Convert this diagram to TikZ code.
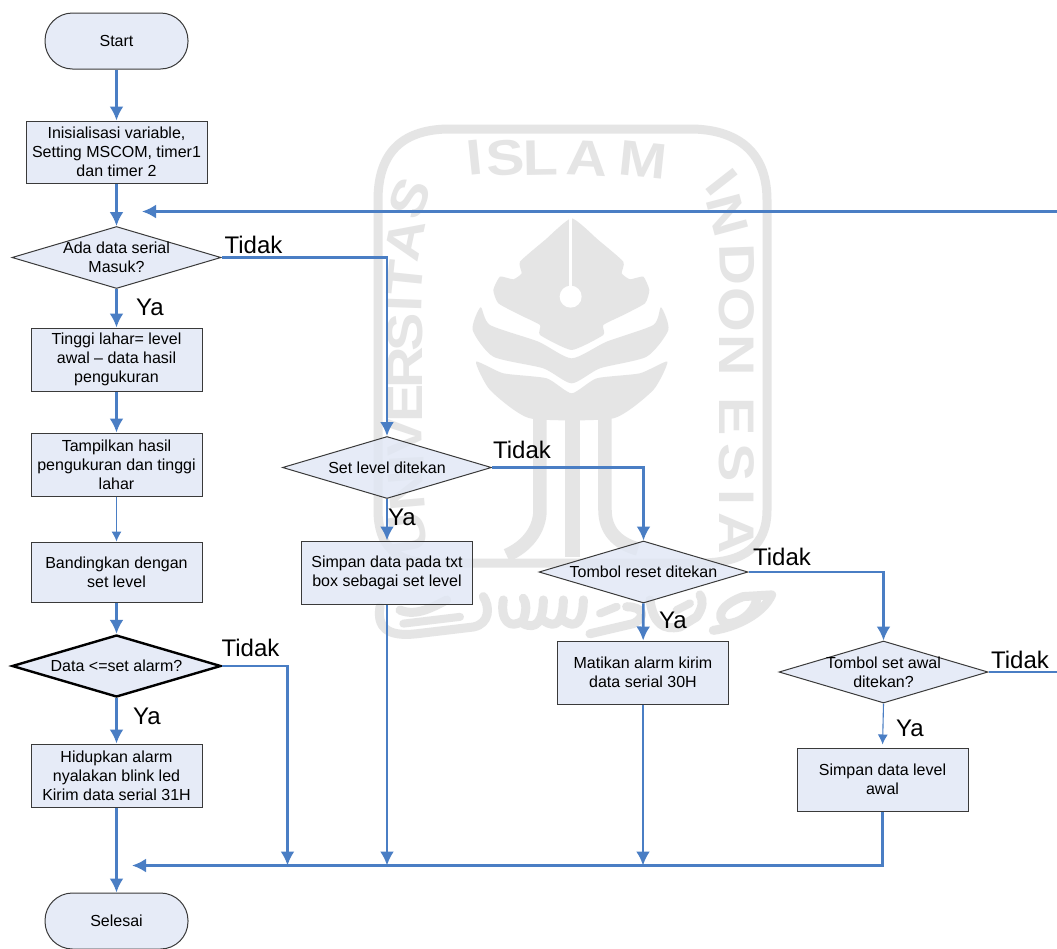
\documentclass[tikz,border=0pt]{standalone}
\usepackage{fontspec}
\setmainfont{Liberation Sans}
\usetikzlibrary{shapes.geometric,arrows.meta}
\definecolor{flowblue}{HTML}{4A7EC4}
\definecolor{boxfill}{HTML}{E0E7F5}
\definecolor{boxline}{HTML}{3A3A3A}
\definecolor{wmgray}{HTML}{E5E5E5}
\tikzset{
  x=1pt,y=-1pt,
  boxtext/.style={font=\fontsize{16}{19}\selectfont,align=center,text=black,text opacity=1},
  shapebase/.style={draw=boxline,line width=1pt,fill=boxfill,fill opacity=.8,text opacity=1,inner sep=0pt},
  procbox/.style={shapebase,rectangle,boxtext,minimum width=#1},
  pill/.style={shapebase,rectangle,rounded corners=27.5pt,minimum width=143pt,minimum height=56pt,boxtext},
  decision/.style={shapebase,diamond,minimum width=209pt,minimum height=62pt},
  dtext/.style={label={[boxtext]center:{#1}}},
  flow/.style={draw=flowblue,line width=2.6pt,-{Latex[width=14pt,length=14pt]}},
  flowplain/.style={draw=flowblue,line width=2.6pt},
  thinflow/.style={draw=flowblue,line width=1.1pt,-{Latex[width=10pt,length=10pt]}},
  answer/.style={font=\fontsize{24}{28}\selectfont,text=black,inner sep=0pt},
  wmfill/.style={fill=wmgray,draw=none},
  wmline/.style={draw=wmgray,line cap=round,line join=round},
  wmchar/.style={font=\fontsize{50}{50}\selectfont\bfseries,text=wmgray,inner sep=0pt},
}
\begin{document}
\begin{tikzpicture}
\useasboundingbox (0,0) rectangle (1057,948);
\fill[white] (0,0) rectangle (1057,948);
% ---- watermark ----
\draw[wmline,line width=9pt,line cap=butt]
  (400,560) -- (425,563) -- (700,563) .. controls (745,563) and (767,545) .. (767,510)
  -- (767,200) .. controls (767,150) and (735,129) .. (690,129)
  -- (450,129) .. controls (405,129) and (378,150) .. (378,200)
  -- (378,510) .. controls (378,545) and (395,560) .. (425,563);
\foreach \c/\px/\py/\r [count=\i] in {
  I/475/158/6, S/505/158/4, L/541/158/1, A/587/158/-3, M/643/160/-6,
  S/410/198/68, A/405/240/78, T/405/278/84, I/405/304/88, S/405/332/90, R/405/368/90, E/405/403/90, V/405/437/92, I/407/462/93, N/407/490/95, U/408/533/100,
  I/722/182/-52, N/727/215/-75, D/737/265/-88, O/737/310/-90, N/737/355/-90, E/737/417/-90, S/737/463/-90, I/737/497/-90, A/737/533/-90}
  \node[wmchar,rotate=\r,xscale=1.15] (wm\i) at (\px,\py) {\c};
\begin{scope}[xshift=460pt,yshift=-210pt,x=.3333pt,y=-.3333pt]
  % pen nib and body
  \fill[wmfill] plot[smooth cycle,tension=.3] coordinates {(335,25) (255,90) (180,155) (185,190) (160,208) (120,200) (100,240) (115,280) (180,315) (240,345) (240,375) (335,420) (430,375) (430,345) (490,315) (555,280) (568,240) (550,200) (510,208) (485,190) (490,155) (415,90)};
  \draw[white,line width=3pt] (333,25) -- (333,235);
  \fill[white] (332,260) circle[radius=33];
  % leaves
  \fill[wmfill] plot[smooth cycle,tension=.4] coordinates {(62,292) (90,345) (235,395) (335,445) (440,395) (580,345) (603,292) (625,360) (560,440) (420,475) (335,520) (250,475) (100,440) (38,360)};
  \fill[wmfill] plot[smooth cycle,tension=.35] coordinates {(48,455) (130,490) (260,505) (335,550) (410,505) (540,490) (622,455) (580,540) (460,625) (210,625) (90,540)};
  % stems
  \draw[wmline,line width=13.5pt,line cap=butt] (240,605) -- (240,900) .. controls (240,960) and (200,1010) .. (140,1036);
  \draw[wmline,line width=14.5pt,line cap=butt] (337,605) -- (337,1040);
  \draw[wmline,line width=13.5pt,line cap=butt] (435,605) -- (435,900) .. controls (435,960) and (470,1000) .. (534,1017);
\end{scope}
\begin{scope}[xshift=360pt,yshift=-120pt,x=.3333pt,y=-.338pt]
  % calligraphy band
  \draw[wmline,line width=9pt] (60,1440) .. controls (50,1500) and (80,1530) .. (170,1520) -- (340,1500) .. controls (390,1490) and (390,1440) .. (370,1410);
  \draw[wmline,line width=9pt] (120,1450) .. controls (170,1470) and (220,1440) .. (260,1420);
  \draw[wmline,line width=8pt] (130,1490) -- (300,1470);
  \draw[wmline,line width=9pt] (430,1420) .. controls (420,1480) and (450,1510) .. (490,1480) .. controls (500,1450) and (500,1430) .. (490,1415);
  \draw[wmline,line width=9pt] (490,1490) .. controls (530,1510) and (550,1480) .. (550,1420);
  \draw[wmline,line width=9pt] (550,1480) .. controls (590,1510) and (610,1480) .. (610,1420);
  \draw[wmline,line width=9pt] (610,1480) .. controls (650,1510) and (670,1480) .. (670,1420);
  \draw[wmline,line width=9pt] (690,1520) -- (820,1490) .. controls (860,1470) and (850,1440) .. (800,1440);
  \draw[wmline,line width=8pt] (720,1460) -- (770,1440);
  \draw[wmline,line width=9pt] (870,1420) .. controls (880,1490) and (910,1510) .. (960,1500) -- (1010,1470) .. controls (1030,1440) and (1030,1420) .. (1020,1405);
  \draw[wmline,line width=8pt] (950,1450) -- (990,1430);
  \draw[wmline,line width=9pt] (1060,1510) .. controls (1130,1500) and (1210,1460) .. (1235,1405) -- (1150,1410) .. controls (1090,1430) and (1060,1470) .. (1100,1490) .. controls (1140,1490) and (1180,1460) .. (1190,1420);
\end{scope}
% ---- left column ----
\node[pill] (start) at (116.5,41) {Start};
\node[procbox=181pt,minimum height=62pt] (init) at (116.5,152) {Inisialisasi variable,\\Setting MSCOM, timer1\\dan timer 2};
\node[decision,dtext={Ada data serial\\Masuk?}] (d1) at (116.5,257.5) {};
\node[procbox=171pt,minimum height=63pt] (tinggi) at (116.5,359.5) {Tinggi lahar= level\\awal -- data hasil\\pengukuran};
\node[procbox=171pt,minimum height=63pt] (tampil) at (116.5,464.5) {Tampilkan hasil\\pengukuran dan tinggi\\lahar};
\node[procbox=171pt,minimum height=60pt] (banding) at (116.5,572) {Bandingkan dengan\\set level};
\node[decision,draw=black,line width=2.4pt,dtext={Data <=set alarm?}] (dalarm) at (116.5,666) {};
\node[procbox=171pt,minimum height=63pt] (hidup) at (116.5,775.5) {Hidupkan alarm\\nyalakan blink led\\Kirim data serial 31H};
\node[pill] (selesai) at (116.5,921) {Selesai};
% ---- other columns ----
\node[decision,dtext={Set level ditekan}] (dset) at (387,467.5) {};
\node[procbox=171pt,minimum height=63pt] (simset) at (387,572.5) {Simpan data pada txt\\box sebagai set level};
\node[decision,dtext={Tombol reset ditekan}] (dreset) at (643.5,572) {};
\node[procbox=171pt,minimum height=63pt] (matikan) at (643,672.5) {Matikan alarm kirim\\data serial 30H};
\node[decision,dtext={Tombol set awal\\ditekan?}] (dawal) at (883.5,672) {};
\node[procbox=171pt,minimum height=63pt] (simawal) at (882.5,779.5) {Simpan data level\\awal};
% ---- free ends ----
\coordinate (loopin) at (1057,211.5);
\coordinate (looptip) at (142,211.5);
\coordinate (awalout) at (1057,672);
\coordinate (mergetip) at (132,865.5);
\coordinate (mergecorner) at (882.5,865.5);
\coordinate (alarmdown) at (287.5,865.5);
% ---- connectors ----
\draw[flow] (start) -- (init);
\draw[flow] (init) -- (d1);
\draw[flow] (loopin) -- (looptip);
\draw[flow] (d1) -- (tinggi);
\draw[flow] (tinggi) -- (tampil);
\draw[thinflow] (tampil) -- (banding);
\draw[flow] (banding) -- (dalarm);
\draw[flow] (dalarm) -- (hidup);
\draw[flow] (hidup) -- (selesai);
\draw[flow] (d1.east) -| (dset.north);
\draw[flow] (dset) -- (simset);
\draw[flow] (dset.east) -| (dreset.north);
\draw[flow] (dreset) -- (matikan);
\draw[flow] (dreset.east) -| (dawal.north);
\draw[flowplain] (dawal.east) -- (awalout);
\draw[thinflow,shorten >=3pt] (dawal.south) -- (simawal.north);
\draw[flow] (simawal.south) -- (mergecorner) -- (mergetip);
\draw[flow] (dalarm.east) -| (alarmdown);
\draw[flow] (simset) -- (simset |- mergetip);
\draw[flow] (matikan) -- (matikan |- mergetip);
% ---- answers ----
\node[answer] (t1) at (253.5,245) {Tidak};
\node[answer] (y1) at (150,307) {Ya};
\node[answer] (t2) at (522,450) {Tidak};
\node[answer] (y2) at (402,517) {Ya};
\node[answer] (t3) at (782,557) {Tidak};
\node[answer] (y3) at (673,620) {Ya};
\node[answer] (t4) at (1020,660) {Tidak};
\node[answer] (y4) at (910,728) {Ya};
\node[answer] (t5) at (250.5,648) {Tidak};
\node[answer] (y5) at (147,716) {Ya};
\end{tikzpicture}
\end{document}
